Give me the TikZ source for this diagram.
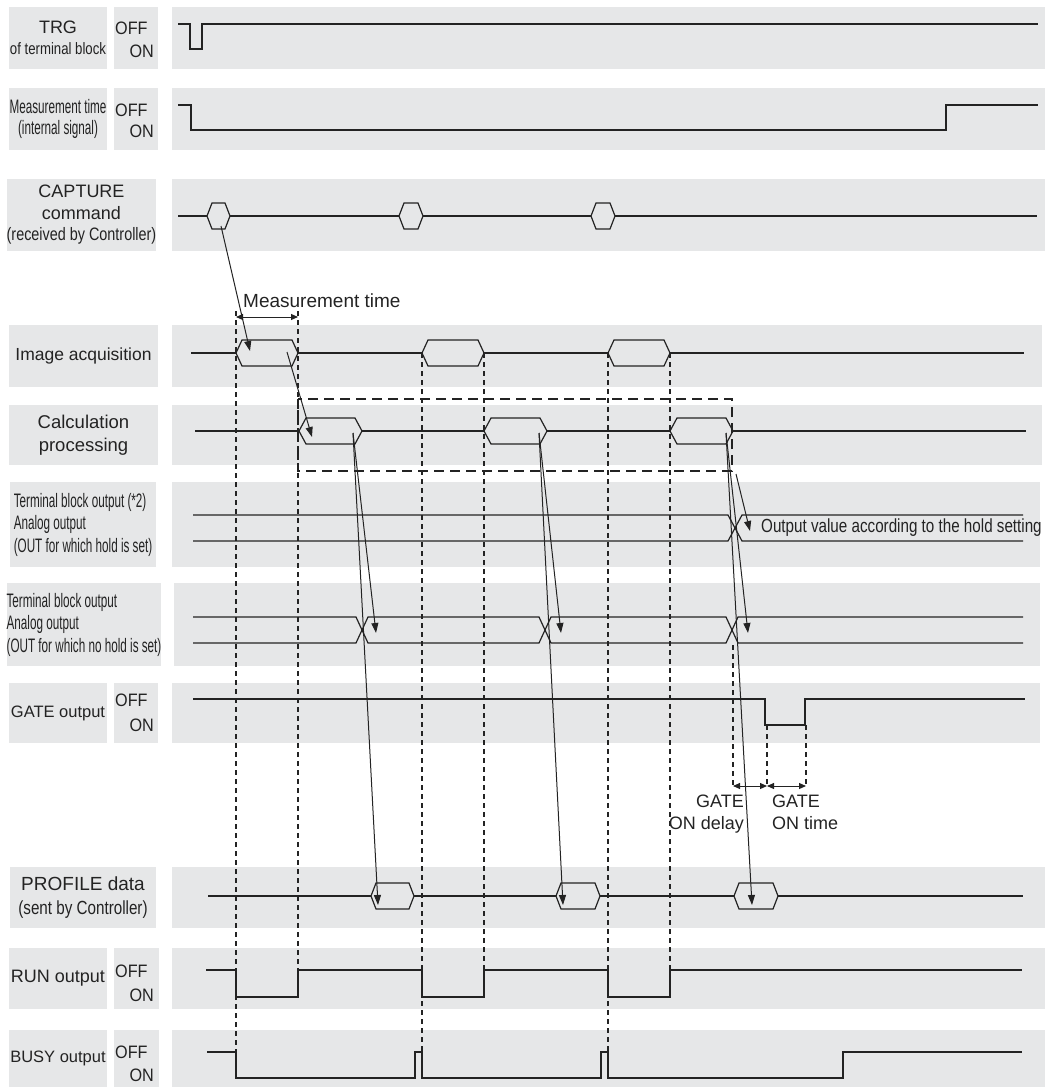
\documentclass[tikz,border=0pt]{standalone}
\usepackage{fontspec}
\setmainfont{Liberation Sans}
\newfontfamily\narrowfont[FakeStretch=0.6]{Liberation Sans}
\newfontfamily\midfont[FakeStretch=0.8]{Liberation Sans}
\newfontfamily\semifont[FakeStretch=0.9]{Liberation Sans}
\usetikzlibrary{arrows.meta}
\definecolor{bandgray}{HTML}{E6E7E8}
\definecolor{ink}{HTML}{232323}
\newcommand{\hexsig}[4]{\draw[sig, fill=bandgray] (#1,#3) -- (#1+#4,#3-13) -- (#2-#4,#3-13) -- (#2,#3) -- (#2-#4,#3+13) -- (#1+#4,#3+13) -- cycle;}

\begin{document}
\begin{tikzpicture}[x=1pt, y=-1pt, every node/.style={font=\fontsize{18}{21.5}\selectfont, text=ink, inner sep=0pt}, band/.style={fill=bandgray}, lblbox/.style={fill=bandgray, align=center}, small/.style={font=\narrowfont\fontsize{19.5}{22.5}\selectfont}, swtext/.style={font=\semifont\fontsize{18}{20}\selectfont}, sig/.style={draw=ink, line width=1.2pt}, guide/.style={draw=ink, line width=1.1pt, dash pattern=on 5pt off 4pt}, window/.style={draw=ink, line width=1.8pt, dash pattern=on 10pt off 6pt}, arrow/.style={-{Triangle[length=10pt, width=7pt]}, draw=ink, line width=1pt}, dim/.style={{Triangle[length=7pt, width=6pt]}-{Triangle[length=7pt, width=6pt]}, draw=ink, line width=1pt}]
\useasboundingbox (0,0) rectangle (1045,1087);

\node[lblbox, minimum width=98pt, minimum height=62pt] (trg) at (58,38) {TRG\\{\midfont\fontsize{16.5}{19}\selectfont of terminal block}};
\node[lblbox, minimum width=44pt, minimum height=62pt] (trgsw) at (136,38) {};
\node[swtext, anchor=west] (trgoff) at (115,28) {OFF};
\node[swtext, anchor=east] (trgon) at (154,51) {ON};
\node[lblbox, small, minimum width=98pt, minimum height=62pt, font=\narrowfont\fontsize{19.5}{21}\selectfont] (meastime) at (58,119) {Measurement time\\(internal signal)};
\node[lblbox, minimum width=44pt, minimum height=62pt] (meassw) at (136,119) {};
\node[swtext, anchor=west] (measoff) at (115,110) {OFF};
\node[swtext, anchor=east] (meason) at (154,131) {ON};
\node[lblbox, minimum width=145pt, minimum height=72pt] (capture) at (81.5,215) {CAPTURE\\command\\{\midfont (received by Controller)}};
\node[lblbox, minimum width=149pt, minimum height=62pt, font=\fontsize{17.5}{21}\selectfont] (imgacq) at (83.5,356) {Image acquisition};
\node[lblbox, minimum width=149pt, minimum height=60pt, font=\fontsize{18.5}{23}\selectfont] (calcproc) at (83.5,435) {Calculation\\processing};
\node[lblbox, small, align=left, minimum width=146pt, minimum height=85pt] (holdout) at (83,524.5) {Terminal block output (*2)\\Analog output\\(OUT for which hold is set)};
\node[lblbox, small, align=left, minimum width=148pt, minimum height=83pt] (noholdout) at (84,624.5) {Terminal block output\\Analog output\\(OUT for which no hold is set)};
\node[lblbox, minimum width=98pt, minimum height=60pt, font=\fontsize{16.5}{20}\selectfont] (gateout) at (58,713) {GATE output};
\node[lblbox, minimum width=44pt, minimum height=60pt] (gatesw) at (136,713) {};
\node[swtext, anchor=west] (gateoff) at (115,700) {OFF};
\node[swtext, anchor=east] (gateon) at (154,725) {ON};
\node[lblbox, minimum width=146pt, minimum height=61pt, font=\fontsize{19}{24}\selectfont] (profile) at (83,897.5) {PROFILE data\\{\midfont (sent by Controller)}};
\node[lblbox, minimum width=98pt, minimum height=61pt] (runout) at (58,978.5) {RUN output};
\node[lblbox, minimum width=45pt, minimum height=61pt] (runsw) at (136.5,978.5) {};
\node[swtext, anchor=west] (runoff) at (115,971) {OFF};
\node[swtext, anchor=east] (runon) at (154,995) {ON};
\node[lblbox, minimum width=98pt, minimum height=57pt, font=\fontsize{16.5}{20}\selectfont] (busyout) at (58,1058.5) {BUSY output};
\node[lblbox, minimum width=45pt, minimum height=57pt] (busysw) at (136.5,1058.5) {};
\node[swtext, anchor=west] (busyoff) at (115,1052) {OFF};
\node[swtext, anchor=east] (busyon) at (154,1075) {ON};

\fill[band] (172,7) rectangle (1045,69);
\fill[band] (172,88) rectangle (1045,150);
\fill[band] (172,179) rectangle (1045,251);
\fill[band] (172,325) rectangle (1042,387);
\fill[band] (172,405) rectangle (1042,465);
\fill[band] (172,482) rectangle (1040,567);
\fill[band] (174,583) rectangle (1040,666);
\fill[band] (172,683) rectangle (1040,743);
\fill[band] (172,867) rectangle (1045,928);
\fill[band] (172,948) rectangle (1045,1009);
\fill[band] (172,1030) rectangle (1045,1087);

\draw[guide] (236,311) -- (236,1052);
\draw[guide] (298,311) -- (298,970);
\draw[guide] (422,353) -- (422,1052);
\draw[guide] (484,353) -- (484,970);
\draw[guide] (608,353) -- (608,1052);
\draw[guide] (670,353) -- (670,970);
\draw[guide] (733,645) -- (733,787);
\draw[guide] (767,725) -- (767,787);
\draw[guide] (806,725) -- (806,787);

\draw[sig] (178,24) -- (190,24) -- (190,49) -- (202,49) -- (202,24) -- (1038,24);
\draw[sig] (178,105) -- (191,105) -- (191,130) -- (946,130) -- (946,105) -- (1038,105);
\draw[sig] (178,216) -- (1037,216);
\hexsig{207}{230}{216}{5}
\hexsig{399}{423}{216}{5}
\hexsig{591}{615}{216}{5}
\draw[sig] (191,353) -- (1024,353);
\hexsig{236}{298}{353}{6}
\hexsig{422}{484}{353}{6}
\hexsig{608}{670}{353}{6}
\draw[sig] (195,431) -- (1026,431);
\hexsig{299}{362}{431}{7}
\hexsig{484}{547}{431}{7}
\hexsig{670}{733}{431}{7}
\draw[sig] (193,515) -- (728,515) -- (742,541) -- (1023,541);
\draw[sig] (193,541) -- (728,541) -- (742,515) -- (1023,515);
\draw[sig] (193,617) -- (356,617) -- (368,643) -- (539,643) -- (551,617) -- (726,617) -- (738,643) -- (1023,643);
\draw[sig] (193,643) -- (356,643) -- (368,617) -- (539,617) -- (551,643) -- (726,643) -- (738,617) -- (1023,617);
\draw[sig] (193,699) -- (765,699) -- (765,725) -- (805,725) -- (805,699) -- (1025,699);
\draw[sig] (208,896) -- (1023,896);
\hexsig{371}{414}{896}{5}
\hexsig{556}{600}{896}{5}
\hexsig{734}{778}{896}{5}
\draw[sig] (206,970) -- (236,970) -- (236,997) -- (298,997) -- (298,970) -- (422,970) -- (422,997) -- (484,997) -- (484,970) -- (608,970) -- (608,997) -- (670,997) -- (670,970) -- (1022,970);
\draw[sig] (207,1052) -- (236,1052) -- (236,1078) -- (415,1078) -- (415,1052) -- (422,1052) -- (422,1078) -- (601,1078) -- (601,1052) -- (608,1052) -- (608,1078) -- (843,1078) -- (843,1052) -- (1022,1052);

\draw[window] (298,399) rectangle (732,471);

\coordinate (cap1) at (221,226);
\coordinate (img1in) at (250,351);
\coordinate (img1out) at (287,352);
\coordinate (calc1in) at (312,437);
\coordinate (calc1) at (353,433);
\coordinate (calc2) at (539,433);
\coordinate (calc3) at (726,433);
\coordinate (nohold1) at (376,633);
\coordinate (nohold2) at (561,633);
\coordinate (nohold3) at (748,633);
\coordinate (prof1) at (378,905);
\coordinate (prof2) at (563,905);
\coordinate (prof3) at (752,905);
\coordinate (holdfrom) at (736,474);
\coordinate (holdto) at (750,531);
\coordinate (mtleft) at (236,317);
\coordinate (mtright) at (298,317);
\coordinate (delayleft) at (733,786);
\coordinate (delayright) at (767,786);
\coordinate (onright) at (806,786);

\draw[arrow] (cap1) -- (img1in);
\draw[arrow] (img1out) -- (calc1in);
\draw[arrow] (calc1) -- (nohold1);
\draw[arrow] (calc1) -- (prof1);
\draw[arrow] (calc2) -- (nohold2);
\draw[arrow] (calc2) -- (prof2);
\draw[arrow] (calc3) -- (nohold3);
\draw[arrow] (calc3) -- (prof3);
\draw[arrow] (holdfrom) -- (holdto);
\draw[dim] (mtleft) -- (mtright);
\draw[dim] (delayleft) -- (delayright);
\draw[dim] (delayright) -- (onright);

\node[anchor=west, font=\fontsize{19}{22}\selectfont] (mtlabel) at (243,301) {Measurement time};
\node[anchor=west, font=\midfont\fontsize{19}{22}\selectfont] (holdlabel) at (761,528) {Output value according to the hold setting};
\node[align=right, anchor=north east] (delaylabel) at (744,795) {GATE\\ON delay};
\node[align=left, anchor=north west] (ontimelabel) at (772,795) {GATE\\ON time};
\end{tikzpicture}
\end{document}
